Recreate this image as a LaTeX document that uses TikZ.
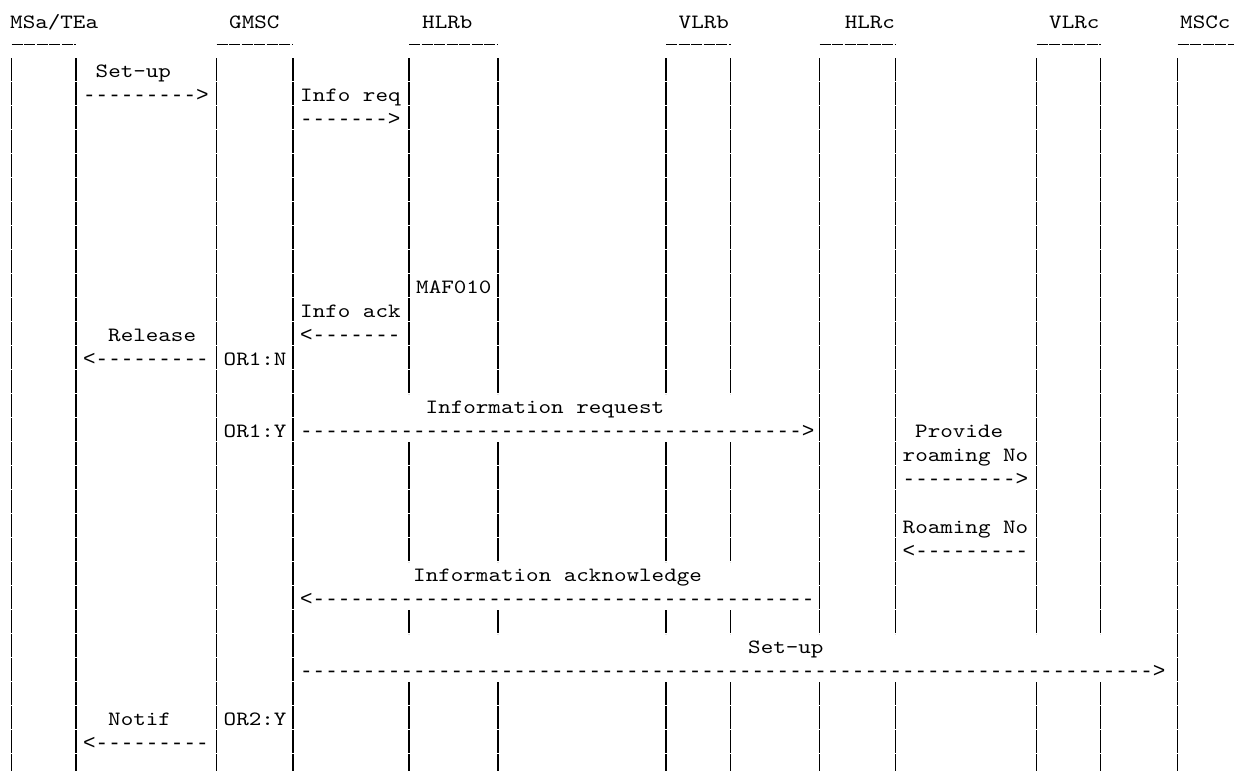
\documentclass[tikz,border=0pt]{standalone}
\usepackage{fontspec}
\setmonofont{lmmono10-regular.otf}[FakeStretch=1.178]
\newfontfamily\arrowfont{Liberation Mono}
\tikzset{
  msg/.style={
    anchor = base west,
    inner sep = 0pt,
    font = \ttfamily\fontsize{20.3}{24}\selectfont
  },
  arr/.style={
    msg,
    font = \arrowfont\fontsize{20.9}{24}\selectfont
  },
  lifeline/.style={
    line width = 1.1pt,
    dash pattern = on 22.6pt off 1.4pt
  },
  underscore/.style={
    line width = 1pt,
    dash pattern = on 11pt off 1.55pt
  },
}

\begin{document}
\begin{tikzpicture}[x=1pt,y=-1pt]
		\clip (0,0) rectangle (1234,771);
		\fill[white] (0,0) rectangle (1234,771);
		\foreach \x in {11.7,76,216.5,293,1177.5}{
		  \draw[lifeline] (\x,58) -- (\x,771);
		}
		\foreach \x in {819.5,895.5,1036.5,1100.5}{
		  \draw[lifeline] (\x,58) -- (\x,634);
		  \draw[lifeline] (\x,682) -- (\x,771);
		}
		\foreach \x in {409,498,666,730.5}{
		  \draw[lifeline] (\x,58) -- (\x,394);
		  \draw[lifeline] (\x,442) -- (\x,562);
		  \draw[lifeline] (\x,610) -- (\x,634);
		  \draw[lifeline] (\x,682) -- (\x,771);
		}
		\foreach \a/\b in {11.7/76,216.5/293,409/498,666/730.5,819.5/895.5,1036.5/1100.5,1177.5/1240}{
		  \draw[underscore] (\a,44.5) -- (\b,44.5);
		}
		\node[msg] (msa)  at (10,28.5)    {MSa/TEa};
		\node[msg] (gmsc) at (229,28.5)   {GMSC};
		\node[msg] (hlrb) at (422,28.5)   {HLRb};
		\node[msg] (vlrb) at (678.5,28.5) {VLRb};
		\node[msg] (hlrc) at (844.6,28.5) {HLRc};
		\node[msg] (vlrc) at (1049,28.5)  {VLRc};
		\node[msg] (mscc) at (1180,28.5)  {MSCc};
		\node[msg] (setupa)     at (95.5,77)   {Set-up};
		\node[arr] (setupaarr)  at (83,101)    {--------->};
		\node[msg] (inforeq)    at (300,101)   {Info req};
		\node[arr] (inforeqarr) at (300,125)   {------->};
		\node[msg] (maf)        at (416,293)   {MAF010};
		\node[msg] (infoack)    at (300,317)   {Info ack};
		\node[msg] (release)    at (108,341)   {Release};
		\node[arr] (infoackarr) at (300,341)   {<-------};
		\node[arr] (releasearr) at (83,365)    {<---------};
		\node[msg] (orn)        at (223.5,365) {OR1:N};
		\node[msg] (inforeqc)   at (425.5,413) {Information request};
		\node[msg] (ory)        at (223.5,437) {OR1:Y};
		\node[arr] (inforeqcarr) at (300,437)  {---------------------------------------->};
		\node[msg] (provide)    at (915,437)   {Provide};
		\node[msg] (provideb)   at (902.5,461) {roaming No};
		\node[arr] (providearr) at (902.5,485) {--------->};
		\node[msg] (roamno)     at (902.5,533) {Roaming No};
		\node[arr] (roamnoarr)  at (902.5,557) {<---------};
		\node[msg] (infoackc)   at (413,581)   {Information acknowledge};
		\node[arr] (infoackcarr) at (300,605)  {<----------------------------------------};
		\node[msg] (setupc)     at (748,653)   {Set-up};
		\node[arr] (setupcarr)  at (300,677)   {-------------------------------------------------------------------->};
		\node[msg] (notif)      at (108,725)   {Notif};
		\node[msg] (ortwo)      at (223.5,725) {OR2:Y};
		\node[arr] (notifarr)   at (83,749)    {<---------};
\end{tikzpicture}
\end{document}
